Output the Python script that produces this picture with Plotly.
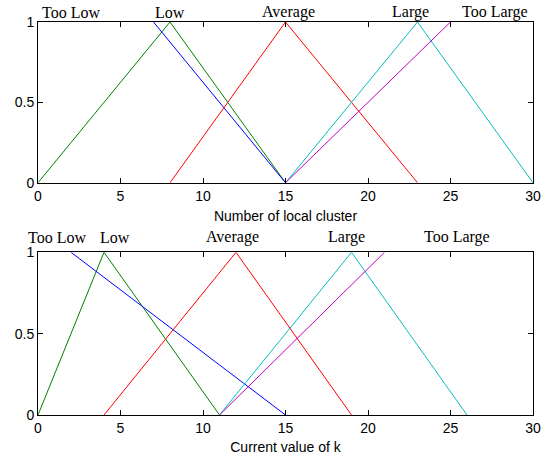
import plotly.graph_objects as go

# Top chart: Number of local cluster
top_green_x = [0, 8, 15]
top_green_y = [0, 1, 0]
top_blue_x = [7, 15]
top_blue_y = [1, 0]
top_red_x = [8, 15, 23]
top_red_y = [0, 1, 0]
top_cyan_x = [15, 23, 30]
top_cyan_y = [0, 1, 0]
top_magenta_x = [15, 25]
top_magenta_y = [0, 1]

# Bottom chart: Current value of k
bot_green_x = [0, 4, 11]
bot_green_y = [0, 1, 0]
bot_blue_x = [2, 15]
bot_blue_y = [1, 0]
bot_red_x = [4, 12, 19]
bot_red_y = [0, 1, 0]
bot_cyan_x = [11, 19, 26]
bot_cyan_y = [0, 1, 0]
bot_magenta_x = [11, 21]
bot_magenta_y = [0, 1]

labels = ["Too Low", "Low", "Average", "Large", "Too Large"]
top_label_x = [2.0, 8.0, 15.2, 22.6, 27.7]
bot_label_x = [1.15, 4.65, 11.8, 18.7, 25.4]

x_ticks = [0, 5, 10, 15, 20, 25, 30]
y_ticks = [0, 0.5, 1]
y_tick_text = ["0", "0.5", "1"]

BLUE = "#0000ff"
GREEN = "#008000"
RED = "#ff0000"
CYAN = "#00bfbf"
MAGENTA = "#bf00bf"

fig = go.Figure()

def add(x, y, color, xa, ya):
    fig.add_trace(go.Scatter(x=x, y=y, mode="lines", line=dict(color=color, width=1),
                             xaxis=xa, yaxis=ya, showlegend=False, hoverinfo="skip"))

add(top_green_x, top_green_y, GREEN, "x", "y")
add(top_blue_x, top_blue_y, BLUE, "x", "y")
add(top_red_x, top_red_y, RED, "x", "y")
add(top_cyan_x, top_cyan_y, CYAN, "x", "y")
add(top_magenta_x, top_magenta_y, MAGENTA, "x", "y")

add(bot_green_x, bot_green_y, GREEN, "x2", "y2")
add(bot_blue_x, bot_blue_y, BLUE, "x2", "y2")
add(bot_red_x, bot_red_y, RED, "x2", "y2")
add(bot_cyan_x, bot_cyan_y, CYAN, "x2", "y2")
add(bot_magenta_x, bot_magenta_y, MAGENTA, "x2", "y2")

serif = dict(family="Liberation Serif, Times New Roman, serif", size=16, color="black")
sans = dict(family="Liberation Sans, Arial, sans-serif", size=14, color="black")

annotations = []
for lab, lx in zip(labels, top_label_x):
    annotations.append(dict(x=lx, y=1, xref="x", yref="y", text=lab, showarrow=False,
                            yanchor="bottom", xanchor="center", yshift=-1, font=serif))
for lab, lx in zip(labels, bot_label_x):
    annotations.append(dict(x=lx, y=1, xref="x2", yref="y2", text=lab, showarrow=False,
                            yanchor="bottom", xanchor="center", yshift=4, font=serif))

axis_common = dict(showgrid=False, zeroline=False, showline=True, linecolor="black", linewidth=1,
                   mirror="ticks", ticks="inside", ticklen=5, tickcolor="black", tickfont=sans)

fig.update_layout(
    width=551, height=463,
    margin=dict(l=38, r=10, t=22, b=45),
    paper_bgcolor="white", plot_bgcolor="white",
    xaxis=dict(domain=[0, 1], anchor="y", range=[0, 30], tickvals=x_ticks,
               title=dict(text="Number of local cluster", standoff=8, font=sans),
               **axis_common),
    yaxis=dict(domain=[0.591, 1], anchor="x", range=[0, 1], tickvals=y_ticks, ticktext=y_tick_text,
               **axis_common),
    xaxis2=dict(domain=[0, 1], anchor="y2", range=[0, 30], tickvals=x_ticks,
                title=dict(text="Current value of k", standoff=7, font=sans),
                **axis_common),
    yaxis2=dict(domain=[0, 0.414], anchor="x2", range=[0, 1], tickvals=y_ticks, ticktext=y_tick_text,
                **axis_common),
    annotations=annotations,
)

fig.write_html("out.html")
